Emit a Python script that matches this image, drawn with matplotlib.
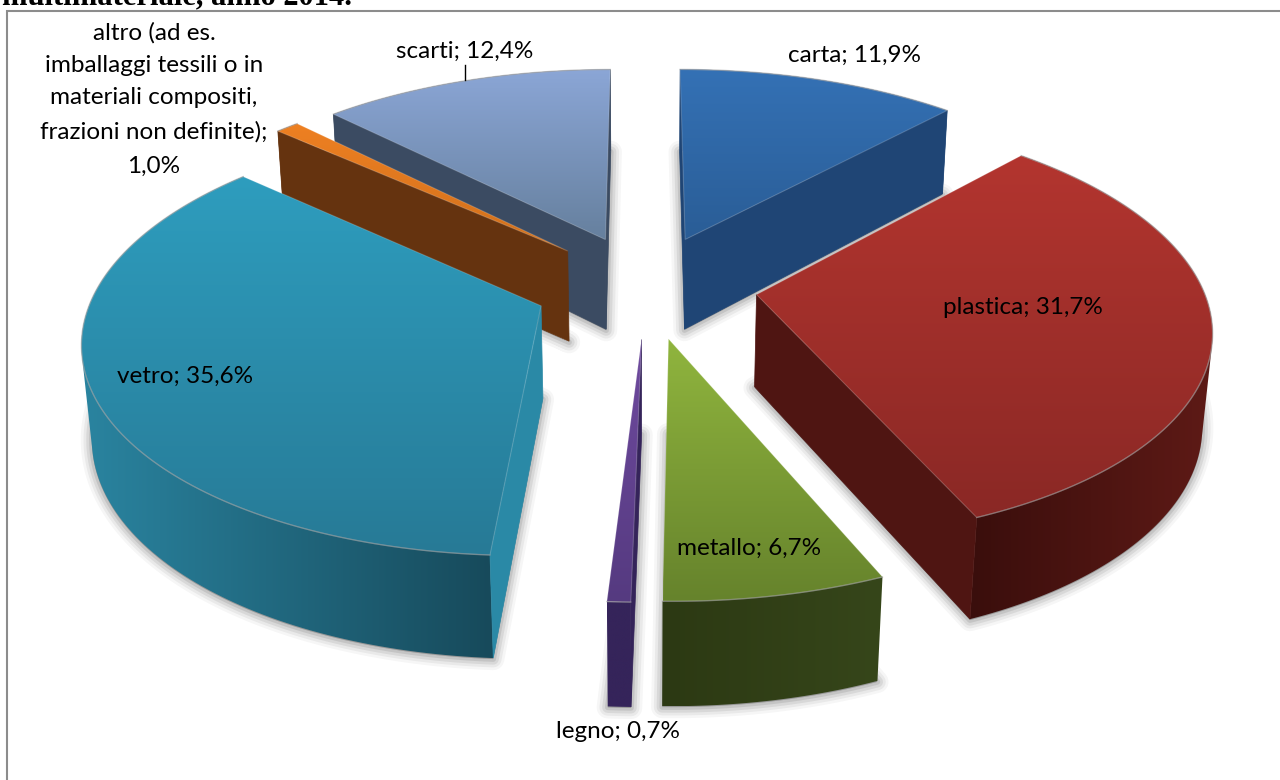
import numpy as np
import matplotlib
matplotlib.use("Agg")
import matplotlib.pyplot as plt
from matplotlib.patches import Polygon

# ---- data ----
categories = ["carta", "plastica", "metallo", "legno", "vetro", "altro", "scarti"]
values = [11.9, 31.7, 6.7, 0.7, 35.6, 1.0, 12.4]
value_labels = ["11,9%", "31,7%", "6,7%", "0,7%", "35,6%", "1,0%", "12,4%"]
title_text = "multimateriale, anno 2014."

# ---- camera of the 3D pie ----
CX, CY, F, D, T = 646.2256, 285.6763, 2718.8660, 6.0994, 0.4833
ROT, H = -0.0006, 0.2367
EXPL = [0.2474, 0.2496, 0.2524, 0.2506, 0.2516, 0.2489, 0.2485]

edges = np.radians(np.concatenate([[0], np.cumsum(values)]) * 3.6)

def proj(X, Y, Z):
    w = D + Y*np.cos(T) - Z*np.sin(T)
    return CX + F*X/w, CY - F*(Y*np.sin(T) + Z*np.cos(T))/w

# ---- drawing ----
fig = plt.figure(figsize=(12.8, 7.8), dpi=100)
ax = fig.add_axes([0, 0, 1, 1])
ax.set_xlim(0, 1280); ax.set_ylim(780, 0); ax.axis('off')

ax.text(2, 4, title_text, family="Liberation Serif", weight="bold", fontsize=22, color="black",
        va="baseline", ha="left", zorder=1)
ax.plot([7, 7, 1280], [780, 11, 11], color="#8C8C8C", lw=1.5, zorder=2, solid_joinstyle='miter')

top_cols = [("#3471B5", "#2A5D96"), ("#B3352F", "#8A2825"), ("#90B53E", "#66832C"), ("#6F4A9F", "#553A80"),
            ("#2E9DBE", "#277A96"), ("#EE8022", "#D0701C"), ("#8BA6D6", "#66809E")]
wall_cols = ["#1F4575", "#4F1512", "#2F3D15", "#35245A", "#2A89A6", "#65330F", "#3B4B62"]
arc_cols = [("#1F4575", "#1F4575"), ("#3A0E0C", "#5E1A16"), ("#2C3913", "#36461A"), ("#35245A", "#35245A"),
            ("#2A84A0", "#174A5B"), ("#65330F", "#65330F"), ("#3B4B62", "#3B4B62")]

z = [10]
def rgb(c):
    return np.array(matplotlib.colors.to_rgb(c))

def hull(pts):
    P = sorted(map(tuple, pts))
    def half(seq):
        out = []
        for a in seq:
            while len(out) > 1 and ((out[-1][0]-out[-2][0])*(a[1]-out[-2][1])
                                    - (out[-1][1]-out[-2][1])*(a[0]-out[-2][0])) <= 0:
                out.pop()
            out.append(a)
        return out
    return np.array(half(P)[:-1] + half(P[::-1])[:-1])

def grad(pts, c0, c1, vertical=True):
    pts = np.asarray(pts)
    x0, x1 = pts[:, 0].min(), pts[:, 0].max()
    y0, y1 = pts[:, 1].min(), pts[:, 1].max()
    f = np.linspace(0, 1, 128)
    col = rgb(c0)[None, :]*(1-f)[:, None] + rgb(c1)[None, :]*f[:, None]
    arr = col[:, None, :] if vertical else col[None, :, :]
    z[0] += 1
    im = ax.imshow(arr, extent=(x0, x1, y1, y0), aspect='auto', interpolation='bilinear', zorder=z[0])
    patch = Polygon(pts, closed=True, transform=ax.transData, fc='none', ec='none')
    ax.add_patch(patch)
    im.set_clip_path(patch)

cam = np.array([0, -D*np.cos(T), D*np.sin(T)])
order = sorted(range(len(values)), key=lambda i: -np.cos((edges[i]+edges[i+1])/2+ROT))

for i in order:
    a0, a1 = edges[i]+ROT, edges[i+1]+ROT
    m = (a0+a1)/2
    ox, oy = EXPL[i]*np.sin(m), EXPL[i]*np.cos(m)
    a = np.linspace(a0, a1, 120)
    wx, wy = ox+np.sin(a), oy+np.cos(a)
    tu, tv = proj(wx, wy, 0*a)
    bu, bv = proj(wx, wy, 0*a-H)
    tt = np.array(proj(ox, oy, 0.0)); tb = np.array(proj(ox, oy, -H))
    top = np.vstack([tt, np.c_[tu, tv]])
    outer = hull(np.vstack([np.c_[tu, tv], np.c_[bu, bv]]))
    bottom = np.vstack([tb, np.c_[bu, bv]])
    # soft shadow cast by the bottom face
    for lw, al in [(16, .035), (12, .05), (8, .07), (4, .09)]:
        z[0] += 1
        ax.add_patch(Polygon(bottom+[0, 1], closed=True, fc="black", ec="black", lw=lw, alpha=al,
                             joinstyle='round', zorder=z[0]))
    grad(outer, arc_cols[i][0], arc_cols[i][1], vertical=False)
    for ang, sgn in [(a0, 1), (a1, -1)]:
        n = sgn*np.array([-np.cos(ang), np.sin(ang), 0])
        if n.dot(cam-np.array([ox, oy, 0.0])) > 0:
            e_t = np.array(proj(ox+np.sin(ang), oy+np.cos(ang), 0.0))
            e_b = np.array(proj(ox+np.sin(ang), oy+np.cos(ang), -H))
            z[0] += 1
            ax.add_patch(Polygon([tt, e_t, e_b, tb], closed=True, fc=wall_cols[i], ec=wall_cols[i],
                                 lw=.5, zorder=z[0]))
    grad(top, top_cols[i][0], top_cols[i][1], vertical=True)
    z[0] += 1
    ax.add_patch(Polygon(top, closed=True, fc='none', ec='white', lw=.8, alpha=.18, zorder=z[0]))
    z[0] += 1
    ax.plot(tu, tv, color="#9A9A9A", lw=1, alpha=.55, zorder=z[0])

# ---- labels ----
LBL = dict(family="Lato", fontsize=17.5, color="black", ha="center", va="center", zorder=1000)
pos = [(855, 55), (1023, 308), (749, 548), (618, 732), (185.5, 376), None, (465, 51)]
for i, xy in enumerate(pos):
    if xy is not None:
        ax.text(xy[0], xy[1], "%s; %s" % (categories[i], value_labels[i]), **LBL)
altro_lines = ["altro (ad es.", "imballaggi tessili o in", "materiali compositi,", "frazioni non definite);", value_labels[5]]
for y, s in zip([33, 65, 98, 132, 166], altro_lines):
    ax.text(154, y, s, **LBL)
ax.plot([465, 465], [65, 80], color="black", lw=1, zorder=1000)

fig.savefig("out.png", dpi=100)
